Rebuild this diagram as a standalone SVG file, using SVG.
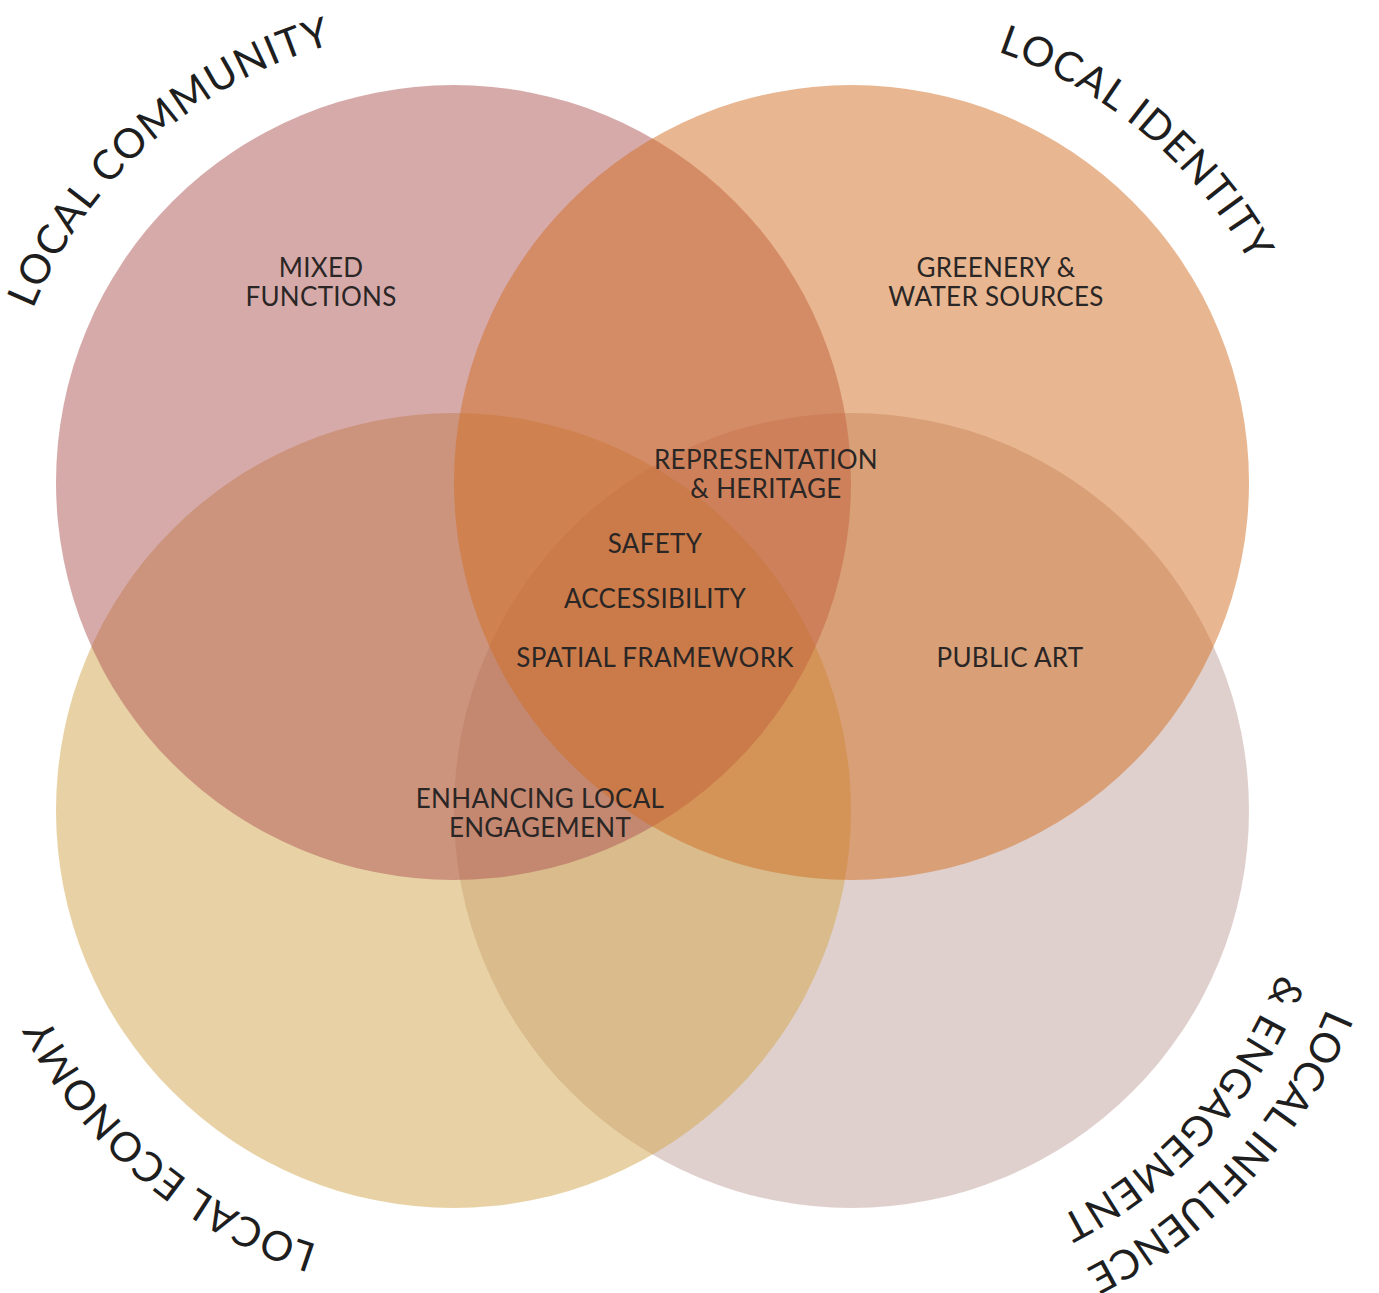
<svg xmlns="http://www.w3.org/2000/svg" width="1379" height="1293" viewBox="0 0 1379 1293">
<style>
.lbl{font-family:Lato,"Liberation Sans",sans-serif;font-size:26px;fill:#2a2625;text-anchor:middle;letter-spacing:0.3px}
.ttl{font-family:Lato,"Liberation Sans",sans-serif;font-size:41px;font-weight:400;fill:#1e1e1e;letter-spacing:1.2px}
.c{opacity:0.5}
</style>
<defs>
<path id="arcTL" d="M 65.6 720.2 A 455 455 0 0 1 736.7 126.4"/>
<path id="arcTR" d="M 559.0 134.0 A 455 455 0 0 1 1245.5 710.0"/>
<path id="arcBL" d="M 744.2 1160.6 A 455 455 0 0 1 60.7 580.9"/>
<path id="arcBRi" d="M 1211.6 529.1 A 457 457 0 0 1 609.3 1198.0"/>
<path id="arcBRo" d="M 1257.3 493.4 A 515 515 0 0 1 578.6 1247.2"/>
</defs>
<rect width="1379" height="1293" fill="#ffffff"/>
<g id="circles">
<circle id="c-br" class="c" cx="851.5" cy="810.5" r="397.5" fill="#c1a19b"/>
<circle id="c-bl" class="c" cx="453.5" cy="810.5" r="397.5" fill="#d1a54b"/>
<circle id="c-tl" class="c" cx="453.5" cy="482.5" r="397.5" fill="#af5555"/>
<circle id="c-tr" class="c" cx="851.5" cy="482.5" r="397.5" fill="#d16d21"/>
</g>
<g id="titles">
<text id="t-community" class="ttl"><textPath href="#arcTL" startOffset="50%" text-anchor="middle">LOCAL COMMUNITY</textPath></text>
<text id="t-identity" class="ttl"><textPath href="#arcTR" startOffset="50%" text-anchor="middle">LOCAL IDENTITY</textPath></text>
<text id="t-economy" class="ttl"><textPath href="#arcBL" startOffset="50%" text-anchor="middle">LOCAL ECONOMY</textPath></text>
<text id="t-influence" class="ttl" style="letter-spacing:0.2px"><textPath href="#arcBRo" startOffset="50.5%" text-anchor="middle">LOCAL INFLUENCE</textPath></text>
<text id="t-engagement" class="ttl"><textPath href="#arcBRi" startOffset="50%" text-anchor="middle">&amp; ENGAGEMENT</textPath></text>
</g>
<g id="labels">
<g id="n-mixed"><text class="lbl" x="321" y="277">MIXED</text><text class="lbl" x="321" y="306">FUNCTIONS</text></g>
<g id="n-greenery"><text class="lbl" x="996" y="277">GREENERY &amp;</text><text class="lbl" x="996" y="306">WATER SOURCES</text></g>
<g id="n-representation"><text class="lbl" x="766" y="469">REPRESENTATION</text><text class="lbl" x="766" y="498">&amp; HERITAGE</text></g>
<g id="n-safety"><text class="lbl" x="655" y="553">SAFETY</text></g>
<g id="n-accessibility"><text class="lbl" x="655" y="608">ACCESSIBILITY</text></g>
<g id="n-spatial"><text class="lbl" x="655" y="667">SPATIAL FRAMEWORK</text></g>
<g id="n-publicart"><text class="lbl" x="1010" y="667">PUBLIC ART</text></g>
<g id="n-enhancing"><text class="lbl" x="540" y="808">ENHANCING LOCAL</text><text class="lbl" x="540" y="837">ENGAGEMENT</text></g>
</g>
</svg>
